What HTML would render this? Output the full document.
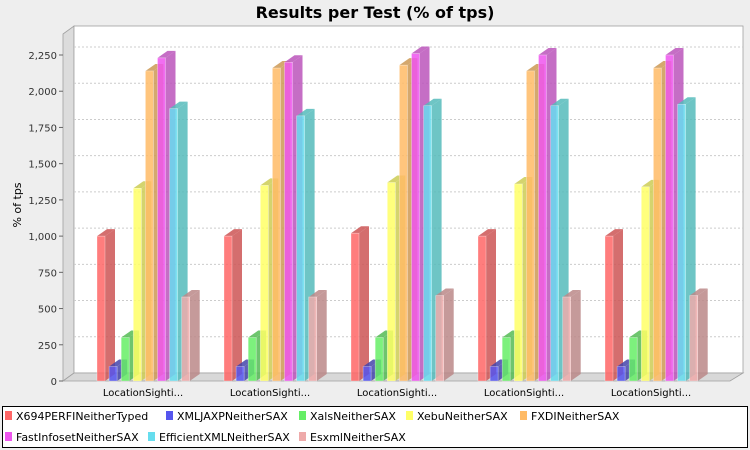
<!DOCTYPE html>
<html><head><meta charset="utf-8"><style>
body{margin:0;background:#eeeeee;}
svg{display:block;font-family:"DejaVu Sans","Liberation Sans",sans-serif;}
</style></head><body>
<svg width="750" height="450" xmlns="http://www.w3.org/2000/svg">
<rect width="750" height="450" fill="#eeeeee"/>
<text x="375" y="18" text-anchor="middle" font-size="16" font-weight="bold" fill="#000">Results per Test (% of tps)</text>
<polygon points="63,34 74,26 74,373 63,381" fill="#dcdcdc" stroke="#a0a0a0" stroke-width="0.8"/>
<rect x="74" y="26" width="669" height="347" fill="#ffffff" stroke="#a0a0a0" stroke-width="0.8"/>
<polygon points="63,381 74,373 743,373 730,381" fill="#d8d8d8" stroke="#a0a0a0" stroke-width="0.8"/>
<g id="grid" stroke="#cccccc" stroke-dasharray="2,2" stroke-width="1"></g>
<g id="axis" font-size="10" fill="#333"></g>
<g id="bars"></g>
<text transform="translate(21,205) rotate(-90)" text-anchor="middle" font-size="11" fill="#000">% of tps</text>
<g font-size="10" fill="#000" text-anchor="middle">
<text x="143" y="396">LocationSighti...</text>
<text x="270" y="396">LocationSighti...</text>
<text x="397" y="396">LocationSighti...</text>
<text x="524" y="396">LocationSighti...</text>
<text x="651" y="396">LocationSighti...</text>
</g>
<rect x="2.5" y="406.5" width="745" height="41" fill="#fff" stroke="#000"/>
<g font-size="11" fill="#000" id="leg"></g>
<script>
var ns="http://www.w3.org/2000/svg";
function el(t,a,p){var e=document.createElementNS(ns,t);for(var k in a)e.setAttribute(k,a[k]);document.getElementById(p).appendChild(e);return e;}
var k=326/2250;
for(var v=0;v<=2250;v+=250){var y=381-v*k;
 if(v>0)el('line',{x1:74,y1:y-8,x2:743,y2:y-8},'grid');
 el('line',{x1:59,y1:y,x2:63,y2:y,stroke:'#666'},'axis');
 var t=el('text',{x:57,y:y+4,'text-anchor':'end'},'axis');t.textContent=v.toLocaleString('en-US');}
var cols=[['#ff6666','#cc5555'],['#5555ee','#4444aa'],['#66ee66','#55bb55'],['#ffff66','#cccc55'],['#ffbb66','#cc9955'],['#ee55ee','#bb55bb'],['#66ddee','#55bbbb'],['#eeaaaa','#bb8888']];
var data=[[1000,100,300,1330,2140,2230,1880,580],[1000,100,300,1350,2160,2200,1830,580],[1020,100,300,1370,2180,2260,1900,590],[1000,100,300,1360,2140,2250,1900,580],[1000,100,300,1340,2160,2250,1910,590]];
var dx=10,dy=7,w=8;
data.forEach(function(g,gi){var x0=97+gi*127;g.forEach(function(v,i){
 var x=x0+i*12.1,top=381-v*k,b=381;
 el('polygon',{points:[x+w,top,x+w+dx,top-dy,x+w+dx,b-dy,x+w,b].join(' '),fill:cols[i][1],'fill-opacity':0.85},'bars');
 el('polygon',{points:[x,top,x+dx,top-dy,x+w+dx,top-dy,x+w,top].join(' '),fill:cols[i][1],'fill-opacity':0.85},'bars');
 el('rect',{x:x,y:top,width:w,height:b-top,fill:cols[i][0],'fill-opacity':0.85,stroke:'#fff','stroke-opacity':0.5,'stroke-width':0.6},'bars');
});});
var names=['X694PERFINeitherTyped','XMLJAXPNeitherSAX','XalsNeitherSAX','XebuNeitherSAX','FXDINeitherSAX','FastInfosetNeitherSAX','EfficientXMLNeitherSAX','EsxmlNeitherSAX'];
var pos=[[5,420],[166,420],[299,420],[406,420],[520,420],[5,441],[148,441],[299,441]];
names.forEach(function(n,i){var p=pos[i];
 el('rect',{x:p[0],y:p[1]-9,width:7,height:9,fill:cols[i][0]},'leg');
 var t=el('text',{x:p[0]+11,y:p[1]},'leg');t.textContent=n;});
</script>
</svg>
</body></html>
